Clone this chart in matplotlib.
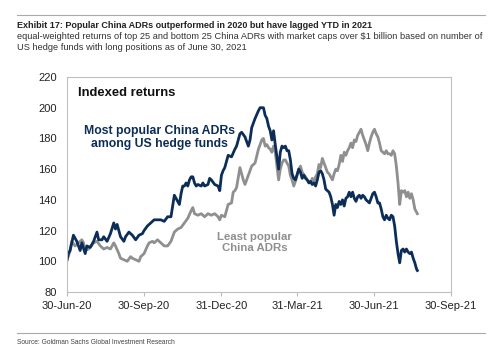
import numpy as np
import pandas as pd
import matplotlib
matplotlib.use('Agg')
import matplotlib.pyplot as plt
import matplotlib.dates as mdates

# days since 30-Jun-20 and index levels
pop_days = [0, 2, 4, 8, 12, 16, 18, 22, 24, 28, 32, 36, 38, 42, 44, 48, 52, 56, 58, 60,
            64, 68, 70, 74, 78, 82, 86, 90, 92, 96, 100, 104, 108, 112, 116, 120, 124, 126, 128, 130,
            132, 134, 136, 138, 140, 142, 144, 146, 148, 150, 152, 154, 156, 160, 162, 164, 168, 170, 172, 176,
            180, 182, 184, 186, 188, 192, 196, 200, 202, 206, 208, 212, 216, 218, 220, 224, 228, 230, 234, 236,
            238, 240, 242, 244, 246, 248, 250, 252, 254, 256, 258, 260, 262, 264, 266, 268, 270, 272, 276, 278,
            280, 282, 284, 286, 288, 290, 292, 294, 296, 298, 300, 302, 304, 306, 308, 312, 314, 316, 318, 320,
            322, 324, 326, 328, 330, 332, 334, 336, 338, 340, 342, 344, 346, 348, 350, 352, 354, 356, 358, 360,
            362, 364, 366, 368, 370, 372, 374, 376, 378, 380, 382, 384, 386, 388, 390, 392, 394, 396, 398, 400,
            402, 404, 406, 408, 410, 412, 414, 416, 417]
pop_vals = [100, 105, 107, 117, 113, 107, 112, 105, 110, 109, 113, 119, 114, 114, 116, 113, 118, 125, 121, 124,
            116, 113, 116, 119, 117, 114, 117, 118, 120, 123, 125, 127, 127, 127, 126, 129, 129, 136, 143, 141,
            139, 137, 144, 149, 149, 151, 149, 153, 155, 155, 151, 149, 150, 149, 151, 149, 150, 154, 153, 150,
            149, 146, 156, 159, 161, 169, 168, 173, 175, 183, 184, 181, 175, 179, 187, 193, 198, 200, 200, 195,
            193, 188, 185, 179, 185, 176, 168, 160, 171, 175, 174, 175, 172, 172, 166, 157, 154, 153, 160, 158,
            154, 156, 154, 153, 151, 152, 150, 151, 149, 153, 158, 159, 157, 153, 147, 145, 142, 137, 130, 137,
            135, 139, 137, 140, 136, 141, 142, 145, 142, 145, 141, 139, 142, 143, 141, 143, 142, 140, 139, 138,
            141, 144, 145, 142, 138, 138, 134, 129, 127, 130, 128, 127, 130, 129, 123, 113, 105, 99, 107, 108,
            106, 108, 106, 105, 106, 102, 99, 95, 94]

least_days = [0, 4, 6, 10, 14, 18, 20, 22, 26, 32, 36, 40, 44, 48, 52, 56, 58, 62, 64, 68,
              72, 76, 78, 82, 86, 88, 92, 96, 98, 102, 104, 108, 112, 116, 120, 124, 128, 132, 136, 140,
              144, 148, 150, 152, 156, 160, 164, 168, 172, 176, 180, 182, 184, 188, 192, 196, 198, 200, 202, 206,
              208, 210, 212, 216, 218, 220, 224, 228, 232, 234, 236, 238, 240, 242, 244, 246, 248, 250, 252, 254,
              256, 258, 260, 264, 266, 268, 270, 272, 276, 278, 280, 284, 286, 290, 292, 294, 296, 298, 300, 302,
              304, 306, 308, 310, 312, 316, 318, 320, 322, 324, 326, 328, 330, 332, 334, 336, 338, 340, 342, 344,
              346, 348, 350, 352, 354, 356, 358, 360, 362, 364, 366, 368, 370, 372, 374, 376, 378, 380, 382, 384,
              386, 388, 390, 392, 394, 396, 398, 400, 402, 404, 406, 408, 410, 412, 414, 416, 417]
least_vals = [100, 107, 113, 110, 112, 114, 112, 107, 108, 112, 113, 110, 108, 109, 108, 112, 110, 105, 102, 101,
              100, 103, 102, 101, 100, 103, 105, 110, 112, 113, 112, 114, 112, 110, 110, 113, 119, 121, 122, 125,
              128, 133, 135, 131, 130, 131, 129, 131, 130, 131, 129, 127, 130, 129, 137, 138, 145, 146, 148, 161,
              157, 153, 150, 156, 159, 162, 164, 173, 179, 180, 175, 176, 174, 173, 171, 175, 171, 162, 153, 160,
              164, 166, 166, 162, 156, 153, 149, 152, 160, 162, 158, 155, 153, 151, 154, 152, 155, 157, 163, 161,
              167, 164, 161, 158, 157, 153, 157, 160, 159, 163, 169, 165, 171, 169, 172, 174, 177, 174, 179, 178,
              182, 184, 186, 182, 179, 176, 172, 177, 181, 184, 186, 183, 181, 177, 172, 171, 170, 172, 170, 170,
              169, 172, 170, 162, 151, 137, 146, 145, 146, 142, 145, 141, 144, 140, 134, 132, 131]

tick_dates = ['2020-06-30', '2020-09-30', '2020-12-31', '2021-03-31', '2021-06-30', '2021-09-30']
y_ticks = [80, 100, 120, 140, 160, 180, 200, 220]

start = pd.Timestamp('2020-06-30')
pop_x = start + pd.to_timedelta(pop_days, unit='D')
least_x = start + pd.to_timedelta(least_days, unit='D')

navy = '#0c2d57'
grey = '#8f8f8f'
plt.rcParams['font.family'] = ['Liberation Sans', 'DejaVu Sans']

fig = plt.figure(figsize=(5, 3.5), dpi=100)
W, H = 500, 350
ax = fig.add_axes([66.7 / W, 1 - 292 / H, (451 - 66.7) / W, 215 / H])

ax.plot(least_x, least_vals, color=grey, lw=2.0)
ax.plot(pop_x, pop_vals, color=navy, lw=2.0)

ax.set_xlim(pd.Timestamp(tick_dates[0]), pd.Timestamp(tick_dates[-1]))
ax.set_ylim(80, 220)
ax.set_xticks(pd.to_datetime(tick_dates))
ax.xaxis.set_major_formatter(mdates.DateFormatter('%d-%b-%y'))
ax.set_yticks(y_ticks)
ax.tick_params(axis='both', labelsize=8, colors='#bbbbbb', labelcolor='#222222', length=3, width=0.8)
ax.tick_params(axis='y', length=0, pad=7)
for s in ax.spines.values():
    s.set_color('#c0c0c0')
    s.set_linewidth(0.8)

ax.text(78 / W, 1 - 93 / H, 'Indexed returns', transform=fig.transFigure, fontsize=9.4, fontweight='bold',
        color='#111111', va='center')
ax.text(159.5 / W, 1 - 137.5 / H, 'Most popular China ADRs\namong US hedge funds', transform=fig.transFigure,
        fontsize=8.8, fontweight='bold', color=navy, ha='center', va='center', linespacing=1.05)
ax.text(254.5 / W, 1 - 242.5 / H, 'Least popular\nChina ADRs', transform=fig.transFigure,
        fontsize=8.2, fontweight='bold', color=grey, ha='center', va='center', linespacing=1.1)

fig.add_artist(plt.Line2D([17 / W, 485 / W], [1 - 15 / H, 1 - 15 / H], color='#aaaaaa', lw=0.8))
fig.add_artist(plt.Line2D([17 / W, 485 / W], [1 - 333 / H, 1 - 333 / H], color='#aaaaaa', lw=0.8))
fig.text(17 / W, 1 - 25 / H, 'Exhibit 17: Popular China ADRs outperformed in 2020 but have lagged YTD in 2021',
         fontsize=6.5, fontweight='bold', color='#222222', va='center')
fig.text(17 / W, 1 - 36.5 / H, 'equal-weighted returns of top 25 and bottom 25 China ADRs with market caps over $1 billion based on number of',
         fontsize=6.65, color='#333333', va='center')
fig.text(17 / W, 1 - 48 / H, 'US hedge funds with long positions as of June 30, 2021',
         fontsize=6.65, color='#333333', va='center')
fig.text(17 / W, 1 - 342 / H, 'Source: Goldman Sachs Global Investment Research',
         fontsize=4.8, color='#444444', va='center')

fig.savefig('out.png', dpi=100)
